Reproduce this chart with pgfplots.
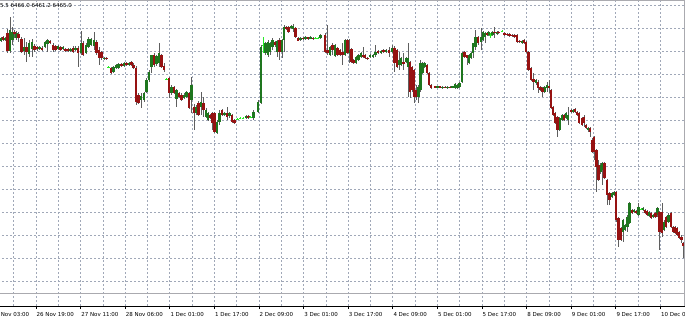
\documentclass[border=0pt]{standalone}
\usepackage{pgfplots}
\pgfplotsset{compat=1.18}
\usepackage{pgfplotstable}
\usepackage{fontspec}
\setmainfont{DejaVu Sans}
\definecolor{bullc}{RGB}{30,118,30}
\definecolor{bearc}{RGB}{150,18,18}
\definecolor{wickc}{RGB}{95,95,95}
\definecolor{dojic}{RGB}{40,235,40}
\definecolor{gridc}{RGB}{160,168,184}
\definecolor{framec}{RGB}{170,170,175}

% pixel rows measured from the top of the picture; columns: x open high low close
\pgfplotstableread{
x o h l c
1 41 37 42 38
5 40 37 41 38
10 51 17 53 30
12.5 40 27 45 32
16.5 38 31 40 33
24 51 38 55 47
29 54 40 57 43
32 49 39 57 42
39.5 49 46 50 47
45 47 41 48 42
47.5 44 39 52 40
58 49 45 50 46
63 49 46 50 47
70.5 51 48 52 49
75.5 50 46 51 48
81 53 31 55 43
86 53 43 54 45
88.5 47 37 48 39
91 45 38 46 39
94 46 32 50 40
104 59 57 60 58
113.5 72 66 73 67
116 68 64 69 65
118.5 68 63 69 64
124 66 62 67 63
129 65 62 66 63
141 100 93 108 96
144 100 92 102 93
146.5 92 78 93 80
149 80 70 82 72
151.5 67 55 73 55
156.5 64 55 66 56
159 63 43 67 53
171.5 93 85 95 87
176.5 99 89 107 90
184 98 93 99 95
186.5 97 91 98 92
191.5 100 77 113 85
196 113 105 115 107
201 107 92 115 102
206 117 108 118 110
208 120 112 121 113
217 133 120 134 122
219.5 122 110 125 113
224.5 115 112 116 113
229.5 116 112 118 113
246 118 115 119 116
253.5 118 110 120 112
258 112 100 113 102
261 103 45 104 47
265.5 53 42 55 43
268 55 40 57 42
270 52 42 55 43
272.5 47 38 50 40
277.5 52 40 57 41
282 52 39 58 40
284 40 25 52 27
291 28 25 29 26
293 29 24 32 26
300.5 40 37 41 38
305.5 39 36 40 37
310.5 39 36 39 37
320.5 38 34 39 35
330 55 46 56 47
335 56 44 57 45
345 55 39 56 40
349.5 53 39 63 50
356 63 56 64 57
358.5 60 54 61 55
361 57 52 58 53
370 57 54 58 55
373 57 54 58 55
375.5 55 45 57 52
381 53 50 54 51
386 52 49 53 50
392 52 45 53 48
399 65 52 70 60
401 65 57 66 58
406 62 57 63 58
408 67 43 97 58
418.5 97 85 103 87
420.5 90 60 92 63
422.5 73 62 74 63
424.5 67 62 68 63
437.5 88 86 88 86
442.5 88 86 89 87
447.5 88 86 89 87
452.5 88 86 88 86
455 88 83 89 84
457.5 88 84 89 85
459.5 87 82 88 83
462 82 52 83 53
469 63 54 64 55
471 58 52 59 53
473 53 43 58 43
475.5 47 30 50 37
481 42 28 50 37
483 40 31 41 32
485 37 32 43 33
488.5 35 31 36 32
492.5 35 31 36 32
497 34 31 35 32
522 43 40 44 41
536 83 79 85 80
544.5 92 86 93 87
547 88 82 92 85
559.5 130 117 131 118
562 120 114 121 115
566 118 112 119 113
568 120 107 125 115
573 112 109 113 110
588 130 127 132 128
600.5 172 163 174 165
602.5 170 162 185 163
612 197 192 198 193
614 195 191 196 192
623 232 219 242 220
625 230 224 231 225
627.5 227 215 232 217
629.5 223 202 224 203
634 212 209 213 210
638.5 215 203 216 207
643 210 207 211 208
649 216 211 217 212
653 217 214 218 215
657.5 215 207 217 208
664 230 220 231 222
668.5 222 213 223 215
}\bull

\pgfplotstableread{
x o h l c
3 37 36 41 40
7.5 33 29 53 51
14.5 32 30 38 34
18.5 34 32 42 38
21.5 39 37 53 52
26.5 47 42 62 52
34.5 46 44 52 50
37 47 46 51 49
42 48 46 51 50
50 41 40 44 43
53 45 43 52 50
55.5 46 45 51 50
60.5 47 46 51 50
65.5 49 48 52 51
68 49 48 52 51
73 48 46 53 52
78 48 46 67 53
83 43 41 56 55
96.5 42 40 55 53
99 50 47 65 58
101.5 52 51 60 58
106.5 58 57 60 59
111 68 67 74 73
121.5 64 63 67 66
126.5 63 62 66 65
131.5 62 61 66 65
133.5 65 63 69 68
136 68 66 105 102
138.5 95 93 104 103
154 55 53 67 65
161.5 55 54 68 67
164 66 63 72 70
169 78 77 98 93
174 87 86 94 93
179 93 92 98 97
181.5 95 93 101 100
189 93 92 109 108
194 107 104 130 113
198.5 103 101 116 115
203.5 103 97 117 110
210.5 115 114 119 118
212.5 113 112 130 123
214.5 113 112 133 132
222 110 109 116 115
227 113 107 120 117
232 115 114 123 122
234.5 120 119 124 123
248.5 116 115 119 118
275 42 41 47 45
279.5 40 38 60 52
286.5 27 26 30 29
288.5 27 26 33 32
295.5 28 27 38 37
298 38 37 41 41
303 38 37 40 39
308 37 37 40 39
313 38 37 40 39
325 35 33 53 52
327.5 50 25 55 53
332.5 45 43 55 50
337.5 48 47 56 55
340 50 49 56 55
342.5 52 43 65 55
347.5 40 39 54 53
351.5 49 48 63 62
353.5 60 59 64 63
363 55 47 58 57
365 55 54 59 58
367.5 58 57 60 59
378 51 50 54 53
383.5 50 49 53 52
389 50 47 57 53
394.5 48 46 72 63
397 50 49 68 67
403.5 62 53 70 64
410 62 61 98 92
412 67 66 92 90
414 70 69 103 97
416 90 85 100 97
427 65 64 74 73
429 73 72 86 85
431 85 84 89 88
435 86 86 88 88
440 86 86 88 88
445 87 86 88 88
450 87 86 88 88
464.5 52 51 58 57
467 55 55 65 58
478 37 36 45 43
487 33 32 36 35
494.5 32 27 38 33
498.5 32 31 34 33
504.5 33 32 36 35
507 34 33 36 35
509.5 34 33 37 36
512 35 34 37 36
514.5 35 34 38 37
517 35 34 43 42
519.5 41 40 43 42
524 40 39 44 43
526 42 41 53 52
528.5 52 51 71 70
531 68 67 81 80
533.5 79 73 90 82
538 82 80 93 88
540.5 87 86 91 90
542.5 88 87 97 92
549 86 80 93 88
551 90 89 109 108
553 107 106 116 115
555 113 112 124 123
557.5 117 116 137 130
564 115 114 121 120
571 110 109 113 112
575 109 108 113 112
577 112 111 116 115
579 113 112 124 123
582 118 117 126 125
584 117 115 127 123
586 125 124 129 128
590 128 127 137 132
592 140 138 153 152
594 137 136 160 152
596.5 150 149 192 167
598.5 165 160 181 180
604.5 163 162 179 178
607 180 179 205 195
609.5 193 192 205 200
616 192 191 222 220
618.5 218 217 247 240
621 228 227 241 240
632 210 209 214 213
636 211 210 214 213
645 210 209 214 213
647 211 210 216 215
651 213 212 219 218
655.5 213 212 218 217
659.5 212 211 250 232
662 212 203 237 233
666 217 216 228 227
671 213 212 228 227
673 227 226 233 232
675 227 226 234 233
677 228 227 236 235
679 232 231 239 238
681.5 237 235 243 240
683.5 243 242 258 246
}\bear

\pgfplotstableread{
x h l c
108.5 66 68 67
166.5 78 80 79
237.5 118 120 119
240 117 119 118
243 117 119 118
250.5 116 118 117
263 37 53 45
315.5 37 39 38
318 37 39 38
490.5 33 38 35
502 30 32 31
641 208 210 209
}\doji

\begin{document}
\begin{tikzpicture}
\useasboundingbox (0pt,0pt) rectangle (685pt,-320pt);
\clip (0pt,0pt) rectangle (685pt,-320pt);
\begin{axis}[
  at={(-10pt,0pt)}, anchor=north west,
  scale only axis, width=694.5pt, height=306pt,
  xmin=-10, xmax=684.5, ymin=0, ymax=306,
  clip=false,
  axis line style={draw=none},
  xtick={-8.6,36,80.6,125.2,169.8,214.4,259,303.6,348.2,392.8,437.4,482,526.6,571.2,615.8,660.4},
  xticklabels={25 Nov 03:00,26 Nov 19:00,27 Nov 11:00,28 Nov 06:00,1 Dec 01:00,1 Dec 17:00,2 Dec 09:00,3 Dec 01:00,3 Dec 17:00,4 Dec 09:00,5 Dec 01:00,5 Dec 17:00,8 Dec 09:00,9 Dec 01:00,9 Dec 17:00,10 Dec 09:00},
  minor x tick num=1,
  ytick={25,48,71,94,117,140,163,186,209,232,255,278,301},
  yticklabels={},
  extra y ticks={13,305.5},
  extra y tick labels={},
  extra y tick style={grid style={solid, draw=framec, line width=0.9pt}, major tick length=0pt},
  xmajorgrids, xminorgrids, ymajorgrids,
  grid style={draw=gridc, dash pattern=on 2pt off 2pt, line width=0.65pt},
  minor grid style={draw=gridc, dash pattern=on 2pt off 2pt, line width=0.65pt},
  xtick pos=left, tick align=outside,
  major tick length=3pt, minor tick length=0pt,
  ytick style={draw=none},
  xtick style={black, line width=0.7pt},
  xticklabel style={anchor=north west, inner sep=0pt, xshift=0.5pt, yshift=-3.2pt,
    font=\fontsize{5.5}{6}\selectfont},
  /pgf/number format/assume math mode=true,
]
% wicks
\addplot[draw=none, mark=none, forget plot,
  error bars/.cd, y dir=both, y explicit, error mark=none,
  error bar style={draw=wickc, solid, line width=0.9pt}]
  table[x=x, y expr={306-0.5*(\thisrow{h}+\thisrow{l})}, y error expr={0.5*(\thisrow{l}-\thisrow{h})}] {\bull};
\addplot[draw=none, mark=none, forget plot,
  error bars/.cd, y dir=both, y explicit, error mark=none,
  error bar style={draw=wickc, solid, line width=0.9pt}]
  table[x=x, y expr={306-0.5*(\thisrow{h}+\thisrow{l})}, y error expr={0.5*(\thisrow{l}-\thisrow{h})}] {\bear};
\addplot[draw=none, mark=none, forget plot,
  error bars/.cd, y dir=both, y explicit, error mark=none,
  error bar style={draw=dojic, solid, line width=0.9pt}]
  table[x=x, y expr={306-0.5*(\thisrow{h}+\thisrow{l})}, y error expr={0.5*(\thisrow{l}-\thisrow{h})}] {\doji};
% bodies
\addplot[draw=none, mark=none, forget plot,
  error bars/.cd, y dir=both, y explicit, error mark=none,
  error bar style={draw=bullc, solid, line width=2.2pt}]
  table[x=x, y expr={306-0.5*(\thisrow{o}+\thisrow{c})}, y error expr={max(0.6,0.5*abs(\thisrow{o}-\thisrow{c}))}] {\bull};
\addplot[draw=none, mark=none, forget plot,
  error bars/.cd, y dir=both, y explicit, error mark=none,
  error bar style={draw=bearc, solid, line width=2.2pt}]
  table[x=x, y expr={306-0.5*(\thisrow{o}+\thisrow{c})}, y error expr={max(0.6,0.5*abs(\thisrow{o}-\thisrow{c}))}] {\bear};
\addplot[only marks, mark=-, mark size=1.3pt, draw=dojic, line width=0.8pt, forget plot]
  table[x=x, y expr={306-\thisrow{c}}] {\doji};
% frame
\draw[black, line width=0.8pt] (axis cs:-10,0) -- (axis cs:684.5,0);
\draw[framec, line width=0.9pt] (axis cs:684,0) -- (axis cs:684,306);
\end{axis}
\node[anchor=west, inner sep=0pt, font=\fontsize{5.5}{6}\selectfont] at (0pt,-6pt) {5.5 6466.0 6461.2 6465.0};
\end{tikzpicture}
\end{document}
